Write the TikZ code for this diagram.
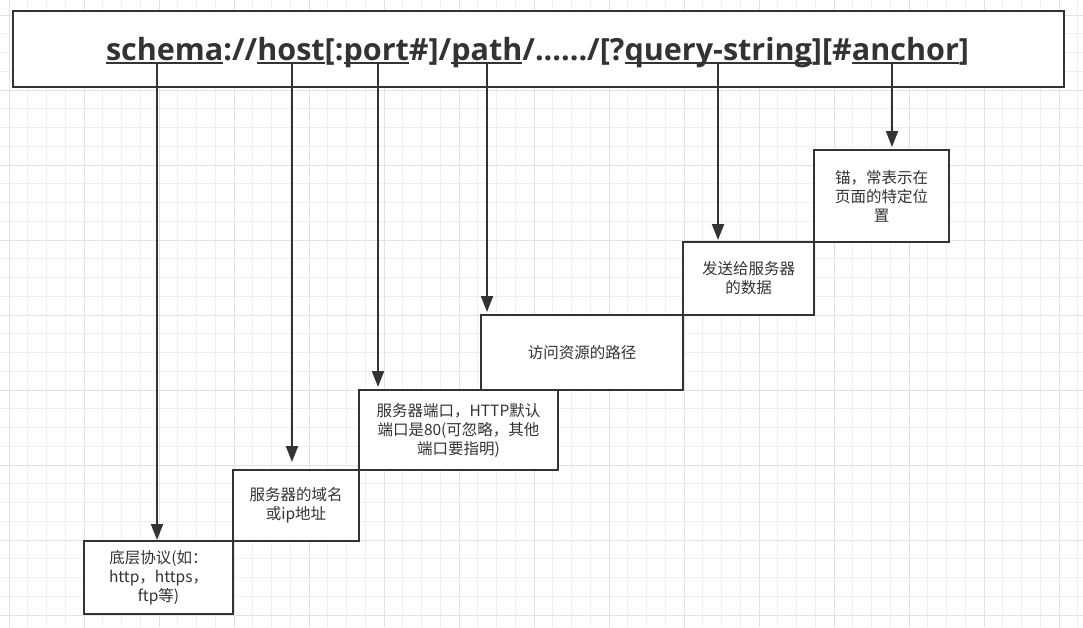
\documentclass[tikz,border=0pt]{standalone}
\usepackage{fontspec}
\usetikzlibrary{arrows.meta}
\newfontfamily\urlfam{Open Sans}
\newfontfamily\cjkfam{Noto Sans CJK SC}
\definecolor{ink}{HTML}{333333}
\definecolor{gridminor}{HTML}{F0F0F0}
\definecolor{gridmajor}{HTML}{E2E2E2}
\newsavebox\ulbox
\newcommand\myul[1]{\sbox\ulbox{#1}\rlap{\rule[-4.3pt]{\wd\ulbox}{2.6pt}}\usebox\ulbox}
\newsavebox\urlbox
\begin{document}
\sbox\urlbox{\urlfam\bfseries\fontsize{26pt}{30pt}\selectfont schema://host[:port\#]/path/....../[?query-string][\#anchor]}%
\pgfmathsetmacro\urlsz{26*(863/\the\wd\urlbox)}%
\begin{tikzpicture}[x=1pt,y=-1pt,
  box/.style={draw=ink,line width=2pt,fill=white,inner sep=0pt,align=center,text=ink,
    font=\cjkfam\fontsize{15.5pt}{19pt}\selectfont},
  arr/.style={draw=ink,line width=2pt,-{Triangle[width=12pt,length=16pt]}},
  seg/.style={anchor=base west,inner sep=0pt,outer sep=0pt,text=ink,
    font=\urlfam\bfseries\fontsize{\urlsz pt}{\urlsz pt}\selectfont}]
\useasboundingbox (0,0) rectangle (1083,627);
\fill[white] (0,0) rectangle (1083,627);
% grid
\foreach \k in {0,...,57} \draw[gridminor,line width=1pt] ({9+18.75*\k},0) -- ({9+18.75*\k},627);
\foreach \k in {0,...,32} \draw[gridminor,line width=1pt] (0,{15+18.75*\k}) -- (1083,{15+18.75*\k});
\foreach \k in {0,...,14} \draw[gridmajor,line width=1pt] ({9+75*\k},0) -- ({9+75*\k},627);
\foreach \k in {0,...,8} \draw[gridmajor,line width=1pt] (0,{15+75*\k}) -- (1083,{15+75*\k});
% top box
\node[box,minimum width=1051pt,minimum height=76pt] (top) at (538.5,49) {};
% URL text
\node[seg] (s1) at (106,60) {\myul{schema}};
\node[seg] (s2) at (s1.base east) {://};
\node[seg] (s3) at (s2.base east) {\myul{host}};
\node[seg] (s4) at (s3.base east) {[:};
\node[seg] (s5) at (s4.base east) {\myul{port}};
\node[seg] (s6) at (s5.base east) {\#]/};
\node[seg] (s7) at (s6.base east) {\myul{path}};
\node[seg] (s8) at (s7.base east) {/....../[?};
\node[seg] (s9) at (s8.base east) {\myul{query-string}};
\node[seg] (s10) at (s9.base east) {][\#};
\node[seg] (s11) at (s10.base east) {\myul{anchor}};
\node[seg] (s12) at (s11.base east) {]};
% boxes
\node[box,minimum width=149pt,minimum height=73pt] (b1) at (158.5,577.5) {底层协议(如：\\http，https，\\ftp等)};
\node[box,minimum width=126pt,minimum height=71pt] (b2) at (296,505.5) {服务器的域名\\或ip地址};
\node[box,minimum width=199pt,minimum height=80pt] (b3) at (458.5,430) {服务器端口，HTTP默认\\端口是80(可忽略，其他\\端口要指明)};
\node[box,minimum width=202pt,minimum height=75pt] (b4) at (582,352.5) {访问资源的路径};
\node[box,minimum width=131pt,minimum height=73pt] (b5) at (748.5,278.5) {发送给服务器\\的数据};
\node[box,minimum width=135pt,minimum height=92pt] (b6) at (881.5,196) {锚，常表示在\\页面的特定位\\置};
% arrows
\coordinate (c1) at (157,64);
\coordinate (c2) at (292,64);
\coordinate (c3) at (378,64);
\coordinate (c4) at (487,64);
\coordinate (c5) at (718,64);
\coordinate (c6) at (892,64);
\draw[arr] (c1) -- (c1 |- b1.north);
\draw[arr,shorten >=7pt] (c2) -- (c2 |- b2.north);
\draw[arr,shorten >=2pt] (c3) -- (c3 |- b3.north);
\draw[arr,shorten >=2pt] (c4) -- (c4 |- b4.north);
\draw[arr,shorten >=1pt] (c5) -- (c5 |- b5.north);
\draw[arr,shorten >=2pt] (c6) -- (c6 |- b6.north);
\end{tikzpicture}
\end{document}
